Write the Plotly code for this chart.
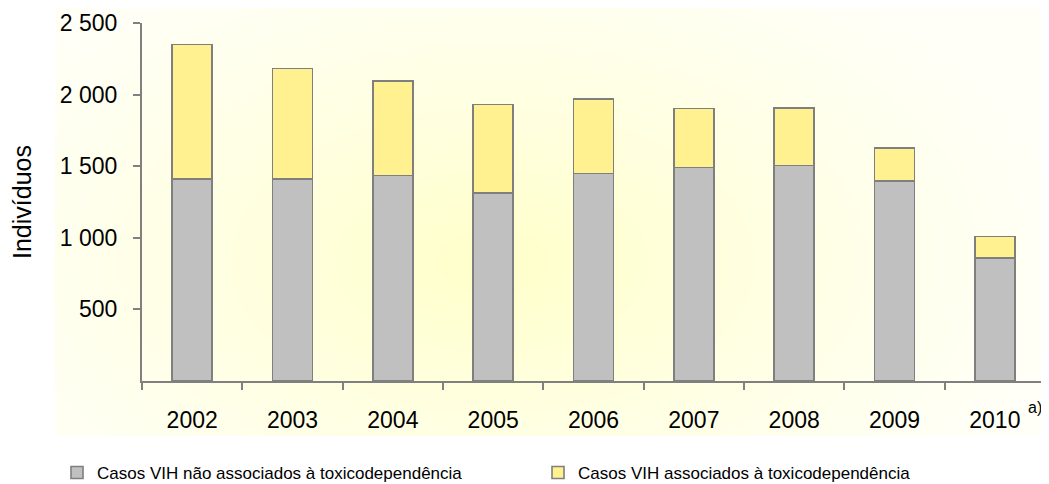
import base64
import struct
import zlib

import numpy as np
import plotly.graph_objects as go

years = ["2002", "2003", "2004", "2005", "2006", "2007", "2008", "2009", "2010"]
nao_toxico = [1410, 1410, 1436, 1313, 1450, 1490, 1506, 1397, 859]
toxico = [940, 772, 659, 619, 521, 414, 402, 232, 151]
y_ticks = [500, 1000, 1500, 2000, 2500]
series_names = [
    "Casos VIH não associados à toxicodependência",
    "Casos VIH associados à toxicodependência",
]

FONT = "Liberation Sans, Arial, sans-serif"


def png_data_uri(rgb):
    h, w, _ = rgb.shape
    raw = b"".join(b"\x00" + rgb[i].tobytes() for i in range(h))

    def chunk(tag, data):
        c = struct.pack(">I", len(data)) + tag + data
        return c + struct.pack(">I", zlib.crc32(tag + data) & 0xFFFFFFFF)

    png = b"\x89PNG\r\n\x1a\n"
    png += chunk(b"IHDR", struct.pack(">IIBBBBB", w, h, 8, 2, 0, 0, 0))
    png += chunk(b"IDAT", zlib.compress(raw, 9))
    png += chunk(b"IEND", b"")
    return "data:image/png;base64," + base64.b64encode(png).decode()


# radial background gradient (pale yellow centre -> white)
W, H = 500, 220
xs = np.linspace(0, 1, W)[None, :]
ys = np.linspace(0, 1, H)[:, None]
d = np.sqrt(((xs - 0.44) / 0.6) ** 2 + ((ys - 0.6) / 0.8) ** 2)
k = np.clip(1 - d, 0, 1) ** 1.2
img = np.zeros((H, W, 3), dtype=np.uint8)
img[..., 0] = 255
img[..., 1] = 255
img[..., 2] = np.clip(255 - 46 * k - 7, 0, 255).astype(np.uint8)
bg_uri = png_data_uri(img)

# page body has an 8px margin: work in screen pixels, convert to figure pixels
OFF = 8
FIG_W, FIG_H = 1049 - OFF, 484 - OFF
# plot area in screen pixels: x 142..1045, y 23..381
SX0, SX1, SY0, SY1 = 142, 1045, 23, 381
L = SX0 - OFF
R = FIG_W - (SX1 - OFF)
T = SY0 - OFF
B = FIG_H - (SY1 - OFF)
PW = SX1 - SX0
PH = SY1 - SY0


def px_x(sx):
    return (sx - SX0) / PW


def px_y(sy):
    return (SY1 - sy) / PH


fig = go.Figure()
fig.add_trace(go.Bar(
    x=years, y=nao_toxico, name=series_names[0],
    marker=dict(color="#C0C0C0", line=dict(color="#7F7F7F", width=1.6)),
))
fig.add_trace(go.Bar(
    x=years, y=toxico, name=series_names[1],
    marker=dict(color="#FFF18F", line=dict(color="#7F7F7F", width=1.6)),
))

fig.add_layout_image(
    source=bg_uri, xref="paper", yref="paper",
    x=px_x(55), y=px_y(0), sizex=px_x(1049) - px_x(55), sizey=px_y(0) - px_y(436),
    xanchor="left", yanchor="top", sizing="stretch", layer="below",
)

fig.add_annotation(
    x=px_x(1035), y=px_y(407), xref="paper", yref="paper",
    xanchor="center", yanchor="middle",
    text="a)", showarrow=False, font=dict(family=FONT, size=16, color="#000000"),
)

fig.update_layout(
    width=FIG_W, height=FIG_H,
    margin=dict(l=L, r=R, t=T, b=B, autoexpand=False),
    barmode="stack", bargap=0.6,
    paper_bgcolor="#FFFFFF", plot_bgcolor="rgba(0,0,0,0)",
    separators=", ",
    font=dict(family=FONT, size=23, color="#000000"),
    showlegend=True,
    legend=dict(
        orientation="h", x=px_x(57), y=px_y(473), xanchor="left", yanchor="middle",
        font=dict(family=FONT, size=17, color="#000000"),
        itemwidth=30, entrywidth=436, entrywidthmode="pixels",
        bgcolor="rgba(0,0,0,0)", traceorder="normal",
    ),
    xaxis=dict(
        type="category", showline=True, linecolor="#808080", linewidth=2,
        ticks="outside", tickson="boundaries", ticklen=7, tickcolor="#808080", tickwidth=1.5,
        tickfont=dict(family=FONT, size=23, color="#000000"),
        ticklabelstandoff=17, showgrid=False, zeroline=False, fixedrange=True,
    ),
    yaxis=dict(
        range=[0, 2500], tickvals=y_ticks, separatethousands=True, tickformat=",d",
        showline=True, linecolor="#808080", linewidth=2,
        ticks="outside", ticklen=7, tickcolor="#808080", tickwidth=1.5,
        tickfont=dict(family=FONT, size=23, color="#000000"),
        ticklabelstandoff=11, showgrid=False, zeroline=False,
        title=dict(text="Indivíduos", font=dict(family=FONT, size=25, color="#000000"), standoff=24),
        automargin=False,
    ),
)

fig.write_html("out.html")
